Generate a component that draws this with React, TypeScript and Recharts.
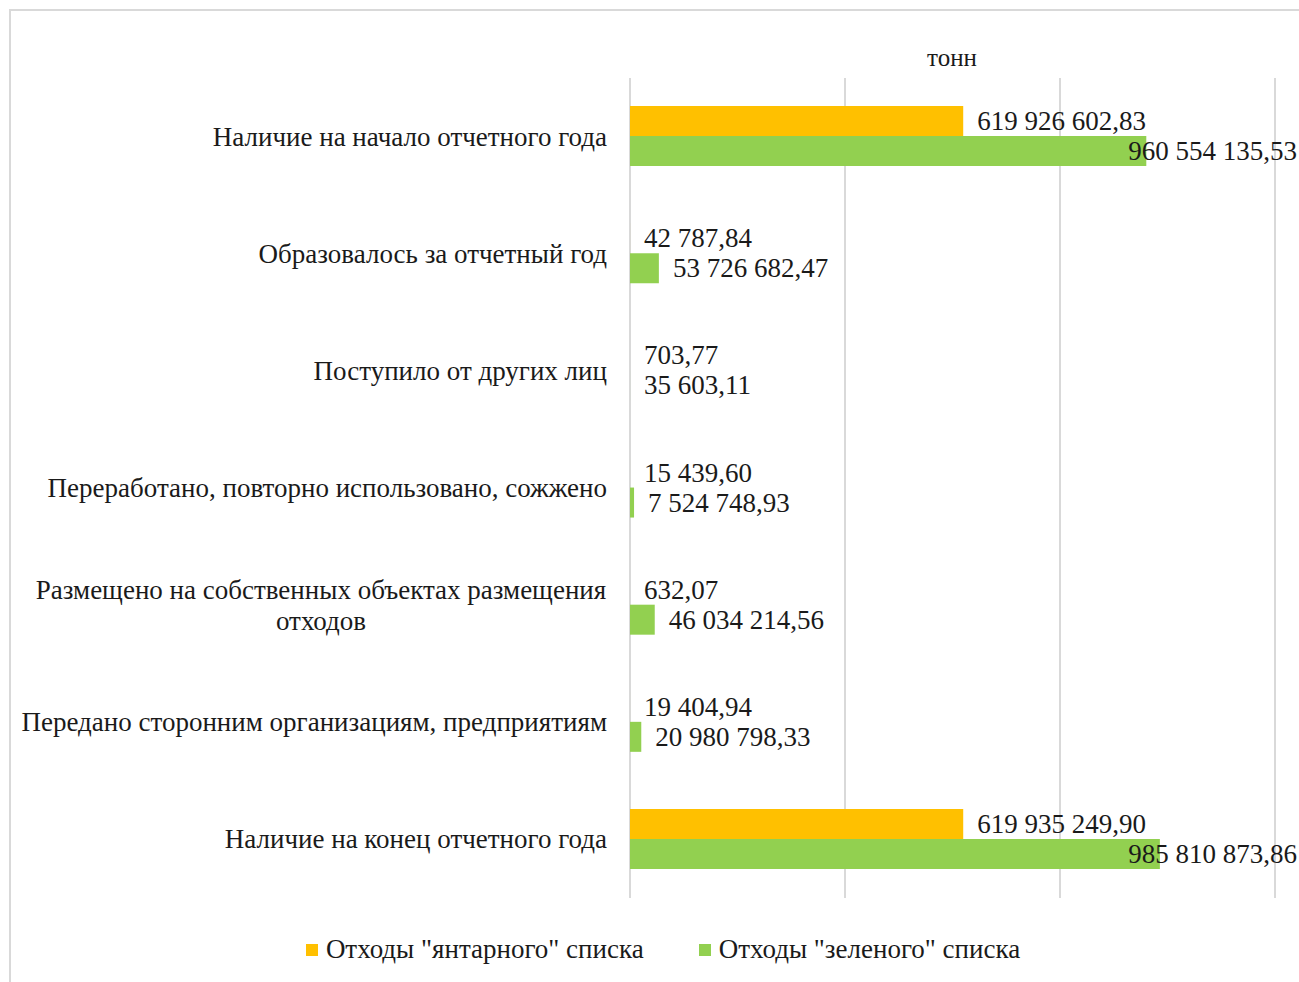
import { BarChart, Bar, XAxis, YAxis, CartesianGrid, LabelList } from 'recharts'

const categories = [
  'Наличие на начало отчетного года',
  'Образовалось за отчетный год',
  'Поступило от других лиц',
  'Переработано, повторно использовано, сожжено',
  'Размещено на собственных объектах размещения\nотходов',
  'Передано сторонним организациям, предприятиям',
  'Наличие на конец отчетного года',
]
const amberValues = [619926602.83, 42787.84, 703.77, 15439.6, 632.07, 19404.94, 619935249.9]
const greenValues = [960554135.53, 53726682.47, 35603.11, 7524748.93, 46034214.56, 20980798.33, 985810873.86]
const xTicks = [0, 400000000, 800000000, 1200000000]

const seriesNames = ['Отходы "янтарного" списка', 'Отходы "зеленого" списка']
const AMBER = '#FFC000'
const GREEN = '#92D050'
const FONT = '"Liberation Serif", "Times New Roman", serif'
const TEXT = '#1a1a1a'

const data = categories.map((name, i) => ({ name, amber: amberValues[i], green: greenValues[i] }))

const fmt = (v: number) => {
  const [int, dec] = v.toFixed(2).split('.')
  return int.replace(/\B(?=(\d{3})+(?!\d))/g, ' ') + ',' + dec
}

const EmptyTick = () => <g />

function CategoryTick(props: any) {
  const { x, y, payload } = props
  const lines: string[] = String(payload.value).split('\n')
  const right = x - 23
  if (lines.length === 1) {
    return (
      <text x={right} y={y} textAnchor="end" dominantBaseline="central" fontFamily={FONT} fontSize={27} fill={TEXT}>
        {lines[0]}
      </text>
    )
  }
  const cx = right - (lines[0].length * 13) / 2
  return (
    <text x={cx} y={y} textAnchor="middle" fontFamily={FONT} fontSize={27} fill={TEXT}>
      {lines.map((l, i) => (
        <tspan key={i} x={cx} dy={i === 0 ? -15.5 + 9 : 31}>{l}</tspan>
      ))}
    </text>
  )
}

function ValueLabel(props: any) {
  const { x, y, width, height, value } = props
  const s = fmt(value)
  const tx = x + width + 14
  const limit = 1297
  const overflow = tx + s.length * 12 > limit
  return (
    <text
      x={overflow ? limit : tx}
      y={y + height / 2}
      textAnchor={overflow ? 'end' : 'start'}
      dominantBaseline="central"
      fontFamily={FONT}
      fontSize={27}
      fill={TEXT}
    >
      {s}
    </text>
  )
}

export default function App() {
  return (
    <div style={{ position: 'absolute', left: 0, top: 0, width: 1299, height: 982, overflow: 'hidden', background: '#fff' }}>
      <div style={{ position: 'absolute', left: 9, top: 9, width: 1320, height: 1000, border: '2px solid #d9d9d9' }} />
      <div style={{ position: 'absolute', left: 852, width: 200, top: 44, textAlign: 'center', fontFamily: FONT, fontSize: 25, color: TEXT }}>
        тонн
      </div>
      <BarChart
        width={1299}
        height={982}
        data={data}
        layout="vertical"
        margin={{ top: 78, right: 24, bottom: 84, left: 0 }}
        barCategoryGap="24%"
        barGap={0}
        style={{ position: 'absolute', left: 0, top: 0 }}
      >
        <CartesianGrid horizontal={false} stroke="#d9d9d9" strokeWidth={2} />
        <XAxis
          type="number"
          domain={[0, 1200000000]}
          ticks={xTicks}
          interval={0}
          tick={<EmptyTick />}
          axisLine={false}
          tickLine={false}
          height={0}
        />
        <YAxis
          type="category"
          dataKey="name"
          width={630}
          axisLine={false}
          tickLine={false}
          tickSize={0}
          tickMargin={0}
          tick={<CategoryTick />}
          interval={0}
        />
        <Bar dataKey="amber" fill={AMBER} isAnimationActive={false}>
          <LabelList dataKey="amber" content={<ValueLabel />} />
        </Bar>
        <Bar dataKey="green" fill={GREEN} isAnimationActive={false}>
          <LabelList dataKey="green" content={<ValueLabel />} />
        </Bar>
      </BarChart>
      <div style={{ position: 'absolute', top: 934, left: 0, width: 1299, display: 'flex', justifyContent: 'center', fontFamily: FONT, fontSize: 27, color: TEXT, paddingLeft: 27, boxSizing: 'border-box' }}>
        {seriesNames.map((n, i) => (
          <div key={n} style={{ display: 'flex', alignItems: 'center', marginRight: i === 0 ? 55 : 0 }}>
            <span style={{ display: 'inline-block', width: 12, height: 12, background: i === 0 ? AMBER : GREEN, marginRight: 8 }} />
            {n}
          </div>
        ))}
      </div>
    </div>
  )
}
